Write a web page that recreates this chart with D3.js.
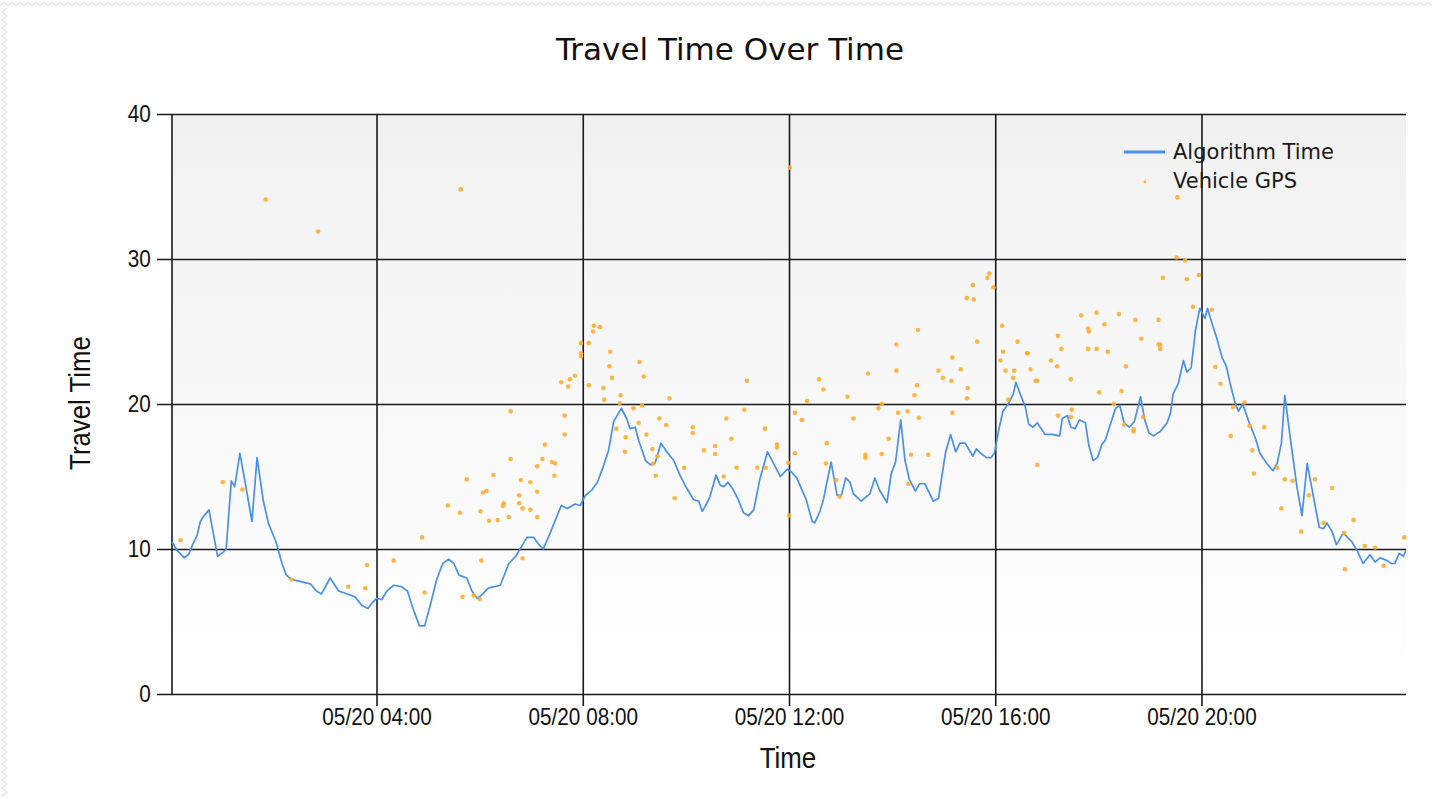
<!DOCTYPE html>
<html>
<head>
<meta charset="utf-8">
<script src="https://cdn.jsdelivr.net/npm/d3@7"></script>
<style>
  body { margin: 0; background: #fff; }
  svg { display: block; }
  .tick text { font-family: "Liberation Sans", Arial, sans-serif; font-size: 23px; fill: #111; }
  .axis-title { font-family: "Liberation Sans", Arial, sans-serif; font-size: 29px; fill: #111; }
</style>
</head>
<body>
<script>
/* Blue line: minutes after midnight on 05/20 and travel time */
var algoMinute = [2,8,16,21,26,31,35,38,45,50,55,62,65,71,75,81,88,95,101,108,
  114,123,130,135,141,163,170,176,186,196,206,215,223,230,235,240,246,252,260,269,
  276,283,290,296,302,310,317,324,330,336,345,351,357,362,370,384,394,402,409,415,
  423,429,434,442,455,462,471,477,483,491,497,504,510,516,525,531,535,541,545,553,
  559,564,571,579,586,593,599,609,615,619,623,628,635,640,644,649,655,661,667,673,
  679,686,695,702,710,718,723,729,740,747,750,756,760,769,776,781,786,791,795,804,
  814,820,825,830,834,839,844,850,855,860,867,872,878,888,894,902,908,914,919,925,
  934,938,943,950,955,959,964,969,976,981,984,989,995,999,1004,1009,1018,1026,1035,1038,
  1044,1048,1053,1058,1065,1069,1074,1079,1084,1088,1100,1105,1110,1116,1122,1129,1134,1139,1144,1152,
  1160,1164,1167,1173,1179,1183,1188,1193,1198,1204,1207,1212,1218,1224,1229,1233,1239,1243,1248,1255,
  1263,1268,1276,1283,1288,1293,1297,1303,1311,1317,1323,1330,1337,1342,1346,1352,1357,1365,1375,1381,
  1388,1396,1402,1408,1416,1421,1425,1430,1435,1438];
var algoTime = [10.5,9.9,9.4,9.6,10.3,10.9,11.9,12.2,12.7,11.1,9.5,9.8,10.0,14.7,14.3,16.6,14.3,11.9,16.3,13.4,
  11.8,10.5,9.0,8.2,7.9,7.6,7.1,6.9,8.0,7.1,6.9,6.7,6.1,5.9,6.3,6.6,6.5,7.1,7.5,7.4,
  7.1,5.8,4.7,4.7,6.0,7.9,9.0,9.3,9.0,8.2,8.0,7.1,6.6,6.8,7.3,7.5,9.0,9.5,10.2,10.8,
  10.8,10.3,10.0,11.1,13.0,12.8,13.1,13.0,13.7,14.1,14.6,15.7,16.8,18.8,19.7,19.0,18.3,18.4,17.5,16.1,
  15.8,15.9,17.3,16.6,16.1,15.1,14.4,13.4,13.3,12.6,13.0,13.6,15.1,14.4,14.3,14.6,14.1,13.4,12.5,12.3,
  12.7,14.8,16.7,15.9,15.0,15.5,15.3,14.9,13.4,11.9,11.8,12.6,13.4,16.0,13.7,13.7,14.9,14.6,13.8,13.3,
  13.8,14.9,14.1,13.6,13.2,15.2,16.0,18.9,16.1,14.8,14.0,14.5,14.5,13.3,13.5,16.6,17.9,16.7,17.3,17.3,
  16.4,16.9,16.6,16.3,16.3,16.6,18.2,19.5,20.1,20.7,21.5,20.7,19.8,18.6,18.4,18.7,17.9,17.9,17.8,19.0,
  19.2,18.4,18.3,18.9,18.7,17.1,16.1,16.3,17.2,17.5,19.7,19.9,18.7,18.4,18.8,20.5,18.9,18.0,17.8,18.1,
  18.7,19.4,20.7,21.4,23.0,22.2,22.5,25.1,26.6,25.9,26.6,25.6,24.5,23.2,22.6,21.5,20.1,19.5,20.0,18.8,
  17.6,16.6,15.9,15.4,15.9,17.3,20.6,17.8,14.3,12.3,15.9,13.7,11.5,11.4,11.8,11.2,10.3,11.1,10.5,9.9,
  9.0,9.6,9.1,9.4,9.2,9.0,9.0,9.7,9.5,9.9];

/* Orange points: vehicle GPS readings */
var gpsMinute = [12,61,84,111,141,172,207,227,229,260,293,296,323,337,338,340,345,353,360,361,
  364,362,368,371,381,376,396,396,394,388,387,406,406,408,410,410,419,419,427,427,
  427,433,436,444,448,447,455,459,459,463,465,471,478,478,478,487,492,493,500,487,
  504,505,512,511,514,519,524,523,530,529,539,545,546,551,549,554,561,567,562,565,
  569,577,581,587,598,608,608,621,634,634,644,647,653,659,668,671,683,692,693,706,
  706,719,720,727,727,721,735,741,755,760,764,763,775,779,788,795,809,809,812,824,
  828,828,836,845,845,847,858,859,862,870,869,866,871,882,894,899,909,910,910,920,
  927,934,935,928,927,939,951,953,958,968,969,966,972,982,981,986,997,998,1001,1007,
  1009,975,1009,1025,1032,1033,1037,1033,1048,1049,1048,1060,1068,1069,1068,1078,1078,1087,1091,1081,
  1104,1112,1107,1098,1123,1130,1132,1150,1150,1152,1152,1110,1121,1121,1172,1171,1181,1155,1183,1197,
  1190,1212,1216,1222,1237,1250,1256,1273,1234,1259,1261,1288,1297,1306,1293,1316,1325,1332,1352,1342,
  1366,1377,1367,1390,1402,1412,1436];
var gpsTime = [10.6,14.6,14.1,34.1,7.9,31.9,7.4,7.3,8.9,9.2,10.8,7.0,13.0,12.5,34.8,6.7,14.8,6.8,6.55,12.6,
  13.9,9.2,14.0,11.95,12.0,15.1,19.5,16.2,12.2,13.15,12.97,13.7,13.15,14.76,12.8,9.36,12.7,14.6,15.7,13.95,
  12.2,16.2,17.2,16.0,15.9,15.05,21.5,19.2,17.9,21.2,21.7,21.95,24.2,23.5,23.3,24.2,25.0,25.4,25.3,21.3,
  21.1,20.3,23.6,22.6,21.8,18.3,20.6,20.05,17.7,16.7,19.7,18.7,22.9,21.9,19.9,17.9,16.9,16.4,15.9,15.05,
  19.0,18.55,20.4,13.5,15.6,18.4,18.0,16.8,17.1,16.55,15.0,19.0,17.6,15.6,19.6,21.6,15.6,18.3,15.6,17.2,
  17.0,15.95,12.3,16.6,19.4,36.3,18.9,20.2,21.7,21.0,17.3,15.9,14.76,13.6,20.5,19.0,16.5,16.3,22.1,19.7,
  20.0,16.55,17.6,24.1,22.3,19.4,19.5,14.5,16.5,25.1,21.3,20.6,19.05,16.5,22.3,21.8,21.6,23.2,19.4,22.4,
  27.3,28.2,27.2,21.1,20.4,24.3,28.7,29.0,28.05,25.4,23.6,23.0,22.3,22.3,21.8,24.3,23.5,23.5,22.4,21.6,
  21.6,20.3,15.8,23.0,22.6,24.7,23.8,19.2,21.7,19.6,19.1,26.1,25.2,25.0,23.8,26.3,23.8,25.5,23.6,20.8,
  26.2,22.6,20.9,20.0,25.8,24.5,19.1,25.8,24.1,24.1,23.8,18.57,18.25,18.1,34.25,30.1,29.9,28.7,28.6,28.9,
  26.7,26.5,22.55,21.4,19.8,20.1,18.5,18.4,17.8,16.8,15.2,15.6,14.8,14.7,12.8,11.2,13.7,14.8,14.2,11.8,
  11.1,12.0,8.6,10.2,10.1,8.85,10.8];

var yTicks = [0, 10, 20, 30, 40];
var seriesNames = ['Algorithm Time', 'Vehicle GPS'];

function atMinute(m) { return new Date(2024, 4, 20, 0, m); }

var algo = d3.zip(algoMinute, algoTime).map(function (d) { return {t: atMinute(d[0]), v: d[1]}; });
var gps = d3.zip(gpsMinute, gpsTime).map(function (d) { return {t: atMinute(d[0]), v: d[1]}; });

var W = 1434, H = 799;
var plot = {left: 172, right: 1406, top: 114, bottom: 694};

var svg = d3.select('body').append('svg').attr('width', W).attr('height', H);

/* torn page edge */
var zig = function (pts) { return d3.line()(pts); };
svg.append('path')
  .attr('d', zig(d3.range(0, W, 4).map(function (x, i) { return [x, i % 2 ? 2 : 6]; })))
  .attr('fill', 'none').attr('stroke', '#e2e2e2').attr('stroke-width', 1.2);
svg.append('path')
  .attr('d', zig(d3.range(8, H, 4).map(function (y, i) { return [i % 2 ? 2 : 7, y]; })))
  .attr('fill', 'none').attr('stroke', '#e2e2e2').attr('stroke-width', 1.2);

var x = d3.scaleTime().domain([atMinute(2), atMinute(1438)]).range([plot.left, plot.right]);
var y = d3.scaleLinear().domain([0, 40]).range([plot.bottom, plot.top]);

/* plot background gradient */
var grad = svg.append('defs').append('linearGradient')
  .attr('id', 'bg').attr('x1', 0).attr('y1', 0).attr('x2', 0).attr('y2', 1);
grad.append('stop').attr('offset', '0%').attr('stop-color', '#f1f1f1');
grad.append('stop').attr('offset', '100%').attr('stop-color', '#ffffff');
svg.append('rect')
  .attr('x', plot.left).attr('y', plot.top)
  .attr('width', plot.right - plot.left).attr('height', plot.bottom - plot.top)
  .attr('fill', 'url(#bg)');

/* y axis with gridlines running across */
var yAxis = svg.append('g')
  .attr('transform', 'translate(' + (plot.left - 15) + ',0)')
  .call(d3.axisLeft(y).tickValues(yTicks).tickSizeInner(-(plot.right - plot.left + 15)).tickSizeOuter(0).tickPadding(7));
yAxis.select('.domain').remove();
yAxis.selectAll('.tick line').attr('stroke', '#1a1a1a').attr('stroke-width', 1.6);
yAxis.selectAll('.tick text').attr('transform', 'scale(0.9,1)');

/* x axis with gridlines running up */
var xAxis = svg.append('g')
  .attr('transform', 'translate(0,' + (plot.bottom + 12) + ')')
  .call(d3.axisBottom(x).ticks(d3.timeHour.every(4)).tickFormat(d3.timeFormat('%m/%d %H:%M'))
    .tickSizeInner(-(plot.bottom + 12 - plot.top)).tickSizeOuter(0).tickPadding(3));
xAxis.select('.domain').remove();
xAxis.selectAll('.tick line').attr('stroke', '#1a1a1a').attr('stroke-width', 1.6);
xAxis.selectAll('.tick text').attr('transform', 'scale(0.9,1)');

/* left axis line */
svg.append('line')
  .attr('x1', plot.left).attr('x2', plot.left).attr('y1', plot.top).attr('y2', plot.bottom)
  .attr('stroke', '#1a1a1a').attr('stroke-width', 1.6);

/* series */
svg.append('path')
  .datum(algo)
  .attr('fill', 'none')
  .attr('stroke', '#4b90e6')
  .attr('stroke-width', 1.7)
  .attr('stroke-linejoin', 'round')
  .attr('d', d3.line().x(function (d) { return x(d.t); }).y(function (d) { return y(d.v); }));

svg.append('g').selectAll('circle')
  .data(gps)
  .enter().append('circle')
  .attr('cx', function (d) { return x(d.t); })
  .attr('cy', function (d) { return y(d.v); })
  .attr('r', 2.3)
  .attr('fill', '#ffad33')
  .attr('fill-opacity', 0.9);

/* legend */
var lg = svg.append('g').style('font-family', '"DejaVu Sans", Verdana, sans-serif').style('font-size', '21px');
lg.append('line').attr('x1', 1124).attr('x2', 1165).attr('y1', 152).attr('y2', 152)
  .attr('stroke', '#4b90e6').attr('stroke-width', 3);
lg.append('circle').attr('cx', 1145).attr('cy', 182).attr('r', 1.4).attr('fill', '#ffad33');
lg.selectAll('text').data(seriesNames).enter().append('text')
  .attr('x', 1173).attr('y', function (d, i) { return 152 + i * 29; })
  .attr('dy', '0.35em').attr('fill', '#1a1a1a')
  .text(function (d) { return d; });

/* titles */
svg.append('text')
  .attr('x', 730).attr('y', 60).attr('text-anchor', 'middle')
  .style('font-family', '"DejaVu Sans", Verdana, sans-serif').style('font-size', '31px').attr('fill', '#111')
  .text('Travel Time Over Time');
svg.append('text').attr('class', 'axis-title')
  .attr('transform', 'translate(788,768) scale(0.89,1)').attr('text-anchor', 'middle')
  .text('Time');
svg.append('text').attr('class', 'axis-title')
  .attr('transform', 'translate(90,403) rotate(-90) scale(0.89,1)').attr('text-anchor', 'middle')
  .text('Travel Time');
</script>
</body>
</html>
